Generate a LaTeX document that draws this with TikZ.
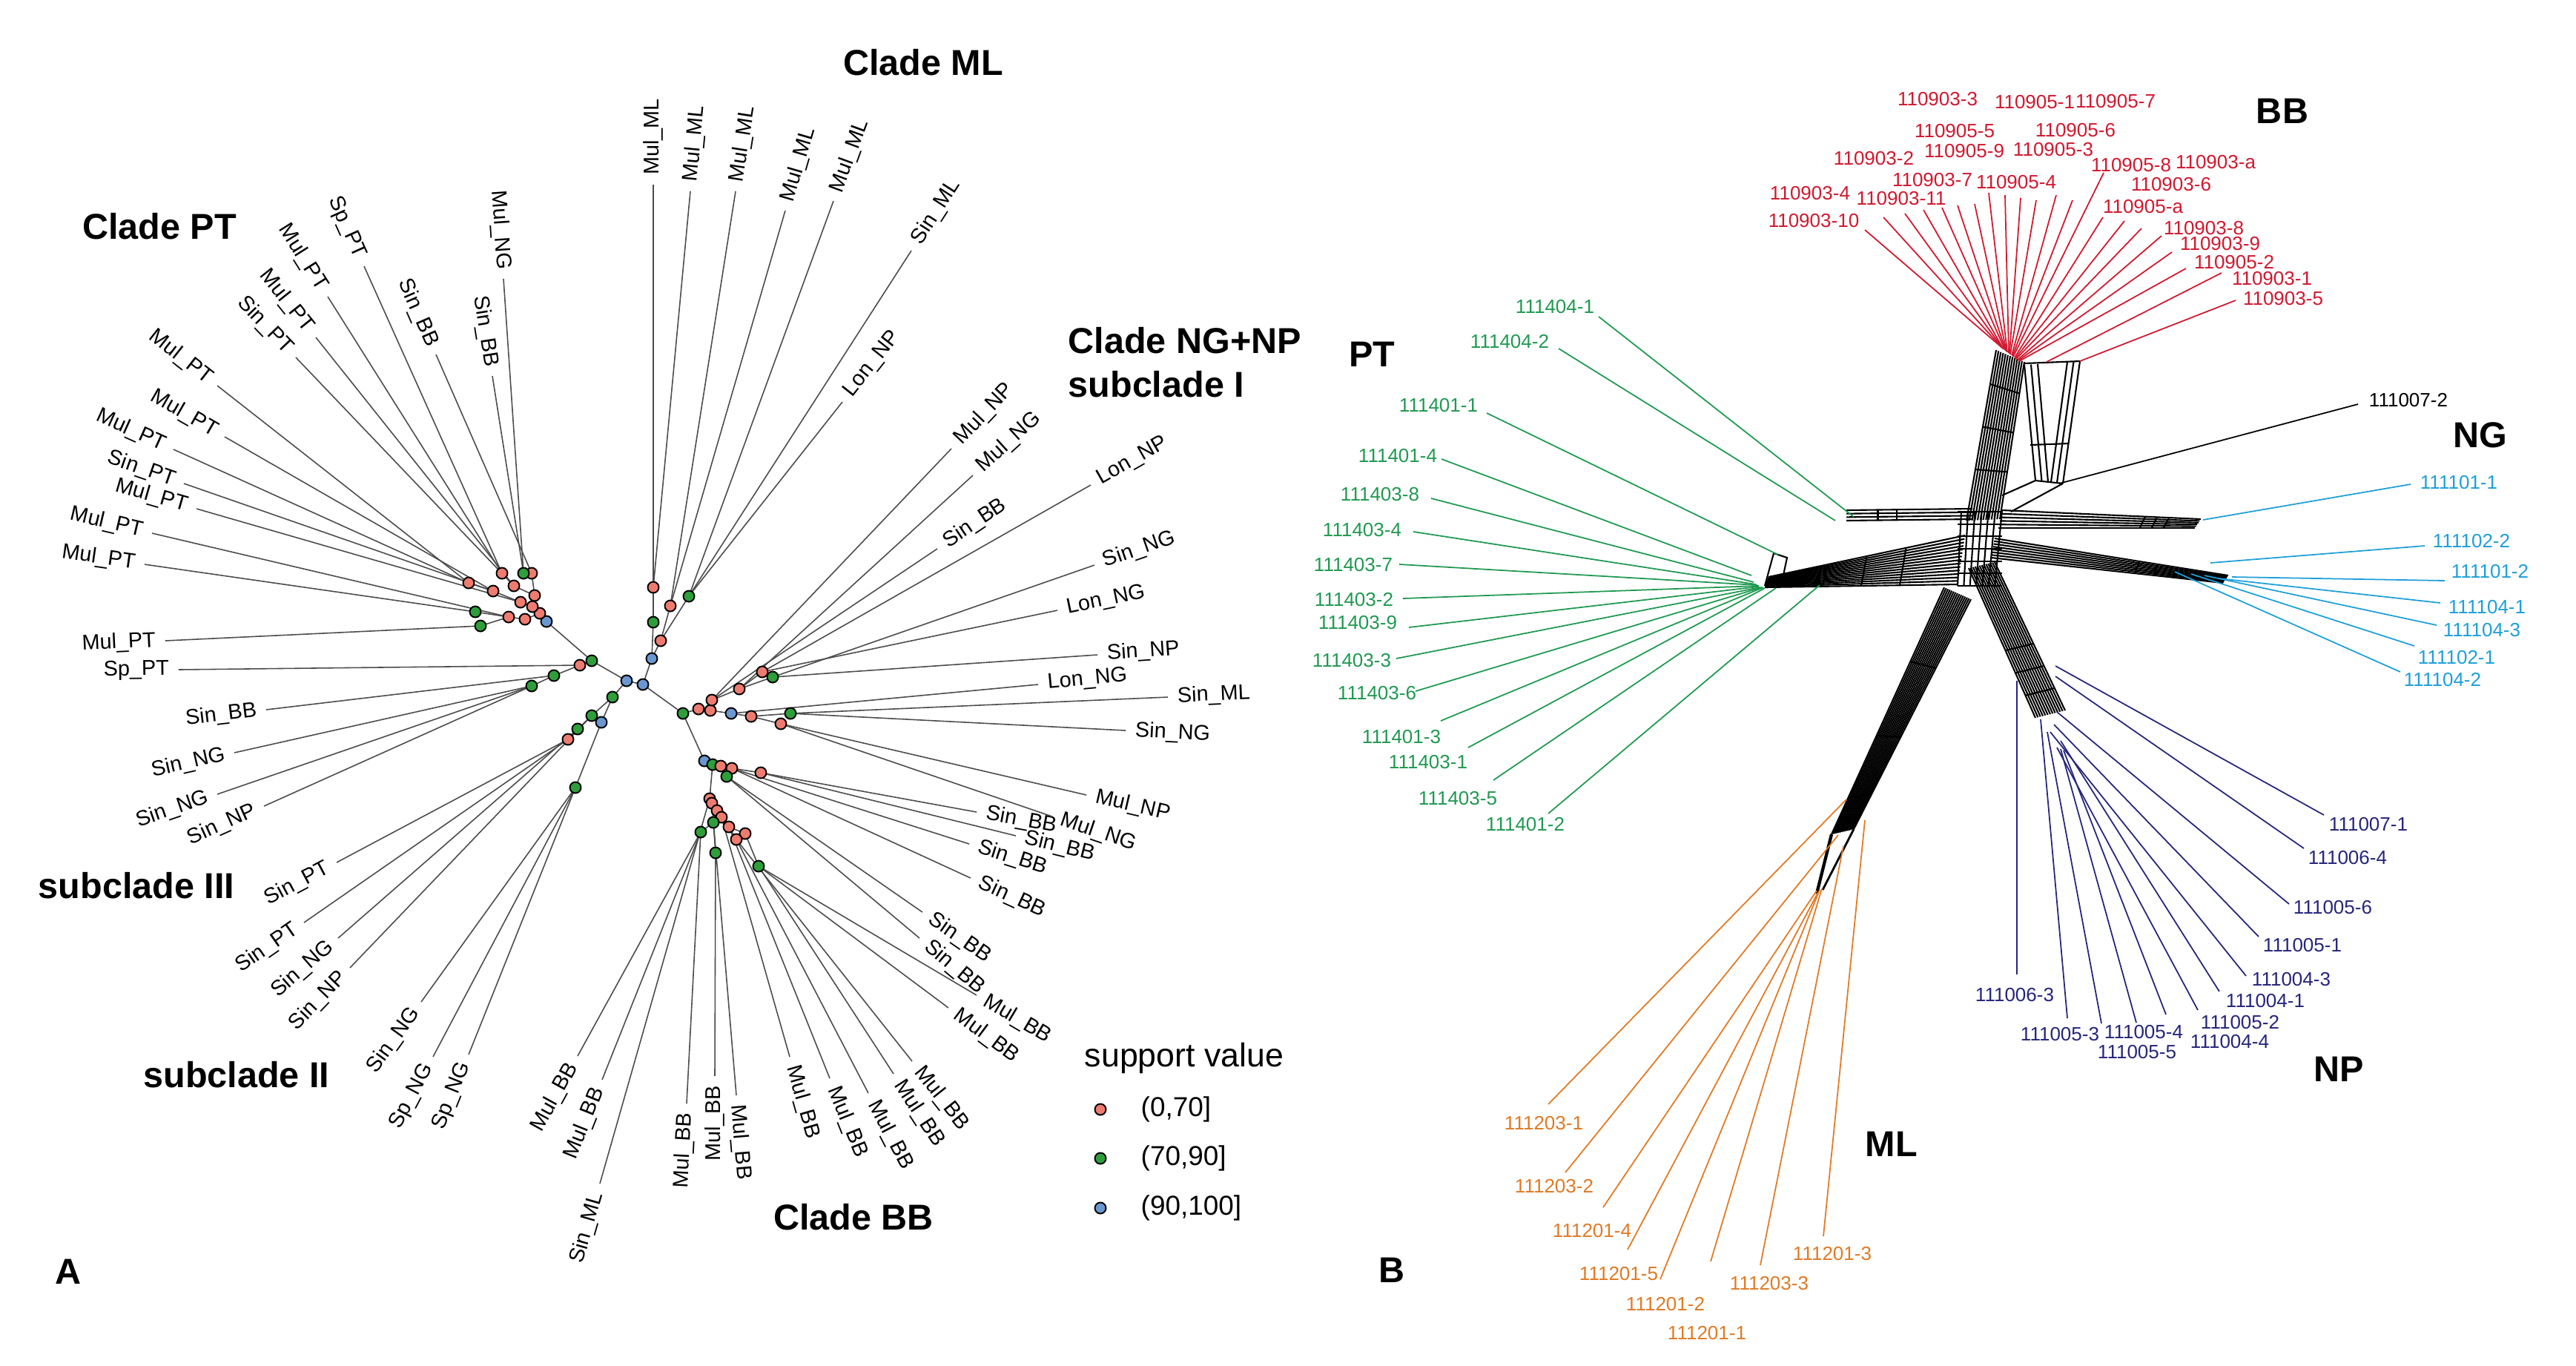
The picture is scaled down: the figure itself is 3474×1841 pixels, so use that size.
\documentclass[tikz,border=0pt]{standalone}
\usepackage{fontspec}
\setmainfont{Liberation Sans}
\usetikzlibrary{calc}

\definecolor{svred}{HTML}{EE7B70}
\definecolor{svgreen}{HTML}{2E9E3B}
\definecolor{svblue}{HTML}{6A97D0}
\definecolor{bbred}{HTML}{D0182E}
\definecolor{ptgreen}{HTML}{1F9950}
\definecolor{ngblue}{HTML}{1E9FD8}
\definecolor{npnavy}{HTML}{25257A}
\definecolor{mlorange}{HTML}{E07A25}

\tikzset{
  branch/.style={draw=black!70, line width=0.45pt},
  tiplab/.style={inner xsep=3.5pt, inner ysep=1pt, font=\fontsize{8.2}{9.5}\selectfont},
  sv/.style={circle, draw=black, line width=0.55pt, minimum size=0.15cm, inner sep=0pt},
  clade/.style={font=\fontsize{13.8}{16}\selectfont\bfseries, inner sep=0pt},
  net/.style={draw=black, line width=0.6pt},
  split/.style={line width=0.5pt},
  acc/.style={font=\fontsize{7.4}{8.5}\selectfont, inner sep=0pt},
}

% parallel lines between rail #1->#3 and rail #2->#4
\newcommand{\bundle}[5]{%
  \foreach \k in {0,...,#5}{%
    \pgfmathsetmacro{\bfr}{\k/#5}%
    \draw[net] ($(#1)!\bfr!(#2)$) -- ($(#3)!\bfr!(#4)$);}}
% cross links of a bundle
\newcommand{\rungs}[5]{%
  \foreach \bt in {#5}{%
    \draw[net] ($(#1)!\bt!(#3)$) -- ($(#2)!\bt!(#4)$);}}
% coloured split edges and their sample labels
\newcommand{\splits}[3]{%
  \foreach \sx/\sy/\tx/\ty [count=\i] in {#3}{%
    \coordinate (#1s\i) at (\sx,\sy);
    \coordinate (#1t\i) at (\tx,\ty);
    \draw[split, #2] (#1s\i) -- (#1t\i);}}
\newcommand{\taxa}[3]{%
  \foreach \lx/\ly/\lab [count=\i] in {#3}{%
    \node[acc, text=#2] (#1l\i) at (\lx,\ly) {\lab};}}

\begin{document}
\begin{tikzpicture}[x=0.01cm, y=-0.01cm]
\useasboundingbox (0,0) rectangle (3474,1841);

% ---------------- A: tree ----------------
\foreach \n/\x/\y in {
 pt0/737/838, p1/728/827, p2/718/818, p3/721/803, p4/717/773, p5/706/773,
 p6/693/790, p7/677/773, p8/702/812, p9/665/797, p10/632/786, p11/708/835,
 p12/686/832, p13/641/825, p14/648/844,
 c1/845/918, c2/867/923, g1/798/891, r2/782/897, g3/747/911, g4/717/925,
 g5/826/940, g6/798/965, g7/779/983, r8/766/997, b9/811/974, g10/776/1062,
 b11/879/888, r12/891/864, g13/881/839, r14/881/792, r15/904/817, g16/929/804,
 g17/921/962, r18/942/956, r19/958/958, b20/986/962, r21/1013/966, r22/1053/976,
 g23/1066/962, r24/960/944, r25/997/929, r26/1028/906, g27/1042/913,
 b28/950/1026, g29/961/1031, r30/972/1033, r31/987/1036, r32/1026/1042, g33/980/1047,
 r34/957/1077, r35/960/1083, r36/967/1093, r37/973/1102, r38/983/1115, r39/993/1132,
 r40/1005/1124, g41/962/1109, g42/945/1122, g43/965/1150, g44/1023/1168}
  \coordinate (\n) at (\x,\y);

\foreach \a/\b in {c1/c2, c1/g1, g1/pt0, g1/r2, r2/g3, g3/g4, c1/g5, g5/g6, g6/g7,
 g7/r8, g5/b9, b9/g10, pt0/p1, p1/p2, p2/p3, p3/p4, p4/p5, p3/p6, p6/p7, p2/p8,
 p8/p9, p9/p10, p1/p11, p11/p12, p12/p13, p12/p14, c2/b11, b11/g13, g13/r14,
 b11/r12, r12/r15, r12/g16, c2/g17, g17/r18, r18/r19, r19/b20, b20/r21, r21/r22,
 r21/g23, r19/r24, r24/r25, r25/r26, r25/g27, g17/b28, b28/g29, g29/r30, r30/r31,
 r31/r32, r30/g33, g29/r34, r34/r35, r35/r36, r36/r37, r37/r38, r38/r39, r38/r40,
 r36/g41, g41/g42, g41/g43, r40/g44}
  \draw[branch] (\a) -- (\b);

\foreach \a/\x/\y/\s/\lab [count=\i] in {
 p5/679/376/east/Mul\_NG, p5/664/507/east/Sin\_BB, p4/588/478/east/Sin\_BB,
 p7/491/359/east/Sp\_PT, p7/442/400/east/Mul\_PT, p6/426/455/east/Mul\_PT,
 p6/399/482/east/Sin\_PT, p10/293/520/east/Mul\_PT, p9/303/589/east/Mul\_PT,
 p10/234/606/east/Mul\_PT, p9/248/652/east/Sin\_PT, p8/265/686/east/Mul\_PT,
 p12/205/719/east/Mul\_PT, p13/195/761/east/Mul\_PT, p14/223/864/east/Mul\_PT,
 r2/241/903/east/Sp\_PT,
 g3/359/957/east/Sin\_BB, g4/316/1015/east/Sin\_NG, g4/293/1071/east/Sin\_NG,
 g4/356/1087/east/Sin\_NP, r8/454/1163/east/Sin\_PT, r8/410/1244/east/Sin\_PT,
 g7/456/1265/east/Sin\_NG, g6/472/1305/east/Sin\_NP, g10/568/1351/east/Sin\_NG,
 g10/584/1425/east/Sp\_NG, g10/632/1422/east/Sp\_NG,
 g42/779/1424/east/Mul\_BB, g42/812/1456/east/Mul\_BB, r34/809/1596/east/Sin\_ML,
 g42/926/1488/east/Mul\_BB, g43/964/1451/east/Mul\_BB, r35/993/1477/west/Mul\_BB,
 r37/1065/1425/west/Mul\_BB, r38/1119/1454/west/Mul\_BB, r39/1171/1474/west/Mul\_BB,
 g44/1205/1448/west/Mul\_BB, r39/1230/1431/west/Mul\_BB, g44/1279/1359/west/Mul\_BB,
 g44/1317/1342/west/Mul\_BB,
 g33/1240/1265/west/Sin\_BB, g33/1244/1230/west/Sin\_BB, r31/1309/1184/west/Sin\_BB,
 r31/1307/1138/west/Sin\_BB, r32/1370/1127/west/Sin\_BB, r32/1317/1095/west/Sin\_BB,
 r22/1419/1101/west/Mul\_NG, r22/1465/1072/west/Mul\_NP, g23/1518/985/west/Sin\_NG,
 g23/1575/940/west/Sin\_ML, b20/1400/923/west/Lon\_NG, g27/1480/883/west/Sin\_NP,
 r26/1426/823/west/Lon\_NG, g27/1476/762/west/Sin\_NG, r26/1471/654/west/Lon\_NP,
 r24/1264/740/west/Sin\_BB, r25/1312/641/west/Mul\_NG, r24/1283/605/west/Mul\_NP,
 g16/1136/542/west/Lon\_NP, g16/1229/338/west/Sin\_ML, g16/1124/271/west/Mul\_ML,
 r15/1059/284/west/Mul\_ML, r15/992/258/west/Mul\_ML, r14/931/258/west/Mul\_ML,
 r14/881/249/west/Mul\_ML}{
  \coordinate (tipA\i) at (\x,\y);
  \draw[branch] (\a) -- (tipA\i) node[tiplab, sloped, pos=1, anchor=\s] (labA\i) {\lab};
}

\foreach \n/\c in {pt0/svblue, p1/svred, p2/svred, p3/svred, p4/svred, p5/svgreen,
 p6/svred, p7/svred, p8/svred, p9/svred, p10/svred, p11/svred, p12/svred,
 p13/svgreen, p14/svgreen, c1/svblue, c2/svblue, g1/svgreen, r2/svred, g3/svgreen,
 g4/svgreen, g5/svgreen, g6/svgreen, g7/svgreen, r8/svred, b9/svblue, g10/svgreen,
 b11/svblue, r12/svred, g13/svgreen, r14/svred, r15/svred, g16/svgreen,
 g17/svgreen, r18/svred, r19/svred, r24/svred, b20/svblue, r21/svred, r22/svred,
 g23/svgreen, r25/svred, r26/svred, g27/svgreen, b28/svblue, g29/svgreen,
 r30/svred, r31/svred, r32/svred, g33/svgreen, r34/svred, r35/svred, r36/svred,
 r37/svred, r38/svred, r40/svred, r39/svred, g41/svgreen, g42/svgreen,
 g43/svgreen, g44/svgreen}
  \node[sv, fill=\c] (dot\n) at (\n) {};

% clade names
\node[clade] (cladeML) at (1245,84) {Clade ML};
\node[clade] (cladePT) at (215,305) {Clade PT};
\node[clade, anchor=west] (cladeNG) at (1440,459) {Clade NG+NP};
\node[clade, anchor=west] (subI) at (1440,518) {subclade I};
\node[clade] (subIII) at (184,1194) {subclade III};
\node[clade] (subII) at (319,1449) {subclade II};
\node[clade] (cladeBB) at (1151,1641) {Clade BB};
\node[clade] (panelA) at (92,1715) {A};

% legend
\node[font=\fontsize{12.7}{14}\selectfont, inner sep=0pt] (svtitle) at (1597,1427) {support value};
\foreach \c/\y/\lab [count=\i] in {svred/1496/{(0,70]}, svgreen/1562/{(70,90]}, svblue/1629/{(90,100]}}{
  \node[sv, fill=\c] (svkey\i) at (1484,\y) {};
  \node[anchor=west, inner sep=0pt, font=\fontsize{10.5}{12}\selectfont] (svtext\i) at (1538,\y) {\lab};
}

% ---------------- B: split network ----------------
% BB arm
\bundle{2652,702}{2697,700}{2692,472}{2730,488}{12}
\rungs{2652,702}{2697,700}{2692,472}{2730,488}{0.3,0.55,0.8}
\bundle{2745,648}{2762,650}{2730,492}{2748,491}{2}
\bundle{2766,650}{2782,652}{2788,488}{2805,487}{2}
\draw[net] (2730,490) -- (2805,487);
\draw[net] (2745,648) -- (2782,652);
\draw[net] (2745,648) -- (2700,668);
\draw[net] (2782,652) -- (2712,690);
\draw[net] (2738,600) -- (2790,598);
% PT arm
\bundle{2660,686}{2660,700}{2490,688}{2490,702}{3}
\bundle{2650,722}{2640,788}{2385,778}{2380,792}{14}
\rungs{2650,722}{2640,788}{2385,778}{2380,792}{0.3,0.5,0.7,0.88}
\rungs{2660,686}{2660,700}{2490,688}{2490,702}{0.6,0.75}
\draw[net] (2380,790) -- (2392,746) -- (2410,752) -- (2402,790);
% NG arm
\bundle{2700,688}{2695,712}{2968,700}{2960,712}{5}
\rungs{2700,688}{2695,712}{2968,700}{2960,712}{0.72,0.78,0.84}
\bundle{2690,726}{2685,752}{3005,776}{2998,786}{7}
\rungs{2690,726}{2685,752}{3005,776}{2998,786}{0.62,0.7,0.78,0.86,0.92}
% NP arm
\bundle{2655,766}{2690,758}{2745,968}{2785,958}{12}
\rungs{2655,766}{2690,758}{2745,968}{2785,958}{0.55,0.7,0.85}
% ML arm
\bundle{2622,792}{2658,808}{2470,1125}{2500,1118}{14}
\rungs{2622,792}{2658,808}{2470,1125}{2500,1118}{0.3,0.6,0.85}
\draw[net, line width=1.2pt] (2470,1125) -- (2450,1205);
\draw[net, line width=0.8pt] (2500,1118) -- (2458,1200);
% centre
\bundle{2645,690}{2700,688}{2640,790}{2690,792}{6}
\bundle{2640,690}{2640,790}{2700,690}{2700,790}{6}

% sample edges
\splits{bb}{bbred}{2699/468/2515/310, 2700/469/2540/293, 2701/470/2569/288,
 2702/471/2594/283, 2704/472/2619/280, 2705/473/2640/277, 2706/474/2663/275,
 2707/475/2682/260, 2709/476/2704/263, 2710/477/2725/267, 2711/478/2746/270,
 2713/479/2773/263, 2714/480/2795/270, 2715/481/2837/233, 2717/482/2836/293,
 2718/483/2865/298, 2719/484/2888/308, 2721/485/2915/318, 2722/486/2929/340,
 2723/487/2948/362, 2760/488/2996/368, 2805/487/3015/405}
\splits{pt}{ptgreen}{2500/697/2156/427, 2475/702/2102/470, 2398/748/2005/557,
 2362/776/1944/619, 2365/785/1930/672, 2368/788/1906/717, 2370/789/1887/761,
 2372/790/1892/807, 2372/791/1900/846, 2374/792/1883/888, 2376/792/1909/932,
 2378/792/1943/972, 2380/793/1980/1008, 2395/793/2014/1052, 2454/789/2088/1097}
\splits{ng}{ngblue}{2971/701/3251/653, 2981/759/3270/736, 3010/778/3297/783,
 2992/780/3291/813, 2973/776/3286/843, 2955/774/3256/871, 2933/771/3237/906}
\splits{np}{npnavy}{2772/898/3134/1099, 2772/912/3107/1144, 2774/960/3087/1219,
 2770/977/3046/1263, 2765/987/3029/1316, 2779/999/2993/1337, 2774/1008/2964/1362,
 2783/1012/2921/1368, 2779/1010/2881/1379, 2761/987/2834/1380, 2752/970/2788/1373,
 2720/918/2720/1314}
\splits{ml}{mlorange}{2490/1078/2088/1489, 2479/1126/2111/1581, 2450/1201/2162/1628,
 2452/1203/2195/1685, 2454/1200/2239/1725, 2457/1198/2307/1701, 2486/1141/2374/1706,
 2515/1106/2459/1667}
\splits{ox}{black}{2777/652/3180/545}

% sample names
\taxa{bb}{bbred}{2613/134/110903-3, 2744/138/110905-1, 2853/137/110905-7,
 2636/177/110905-5, 2799/176/110905-6, 2649/204/110905-9, 2769/202/110905-3,
 2527/214/110903-2, 2874/223/110905-8, 2988/219/110903-a, 2606/243/110903-7,
 2719/246/110905-4, 2928/249/110903-6, 2441/261/110903-4, 2564/268/110903-11,
 2890/279/110905-a, 2446/298/110903-10, 2972/308/110903-8, 2994/329/110903-9,
 3013/354/110905-2, 3064/376/110903-1, 3079/403/110903-5}
\taxa{pt}{ptgreen}{2097/414/111404-1, 2036/461/111404-2, 1940/547/111401-1,
 1885/615/111401-4, 1861/667/111403-8, 1837/715/111403-4, 1825/762/111403-7,
 1826/809/111403-2, 1831/840/111403-9, 1823/891/111403-3, 1857/935/111403-6,
 1890/994/111401-3, 1926/1028/111403-1, 1966/1077/111403-5, 2057/1112/111401-2}
\taxa{ng}{ngblue}{3316/651/111101-1, 3333/730/111102-2, 3358/771/111101-2,
 3354/819/111104-1, 3347/850/111104-3, 3313/887/111102-1, 3294/917/111104-2}
\taxa{np}{npnavy}{3194/1112/111007-1, 3166/1157/111006-4, 3146/1224/111005-6,
 3105/1275/111005-1, 3090/1321/111004-3, 3055/1350/111004-1, 3021/1379/111005-2,
 3007/1405/111004-4, 2891/1392/111005-4, 2882/1419/111005-5, 2778/1395/111005-3,
 2717/1342/111006-3}
\taxa{ml}{mlorange}{2082/1515/111203-1, 2096/1600/111203-2, 2147/1660/111201-4,
 2183/1718/111201-5, 2246/1759/111201-2, 2302/1798/111201-1, 2386/1731/111203-3,
 2471/1691/111201-3}
\taxa{ox}{black}{3248/540/111007-2}

% group names
\node[clade] (grpBB) at (3078,150) {BB};
\node[clade] (grpPT) at (1850,478) {PT};
\node[clade] (grpNG) at (3345,587) {NG};
\node[clade] (grpNP) at (3154,1442) {NP};
\node[clade] (grpML) at (2551,1543) {ML};
\node[clade] (panelB) at (1877,1713) {B};
\end{tikzpicture}
\end{document}
